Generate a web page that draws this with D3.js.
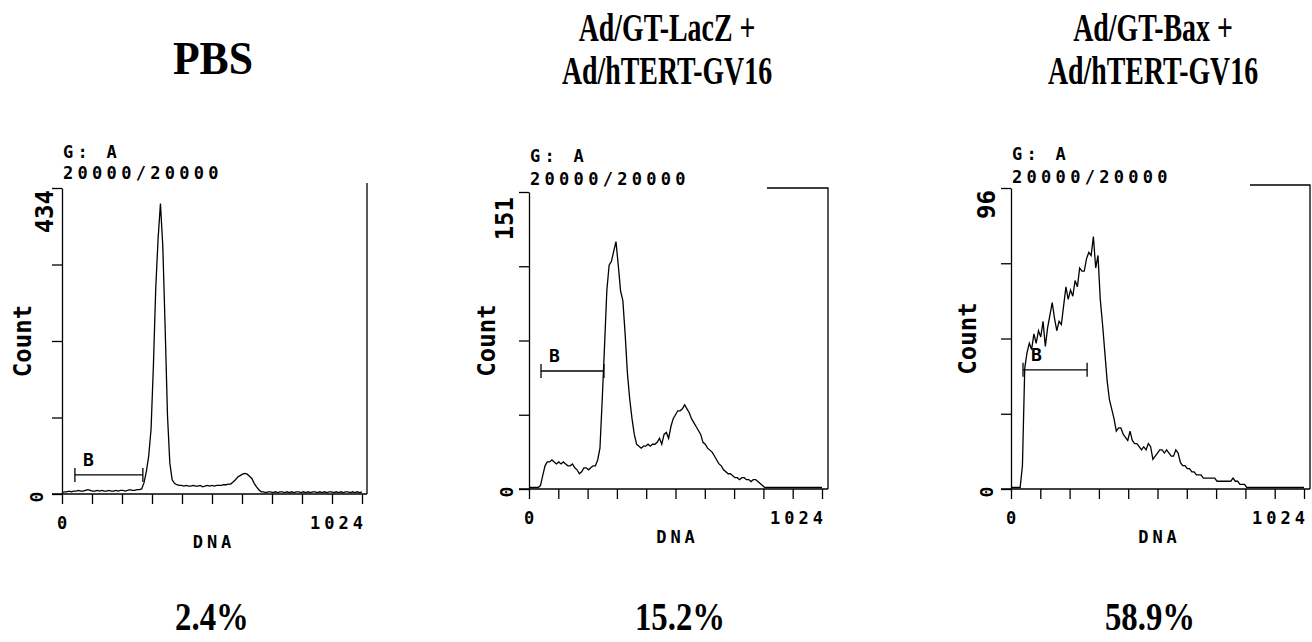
<!DOCTYPE html>
<html><head><meta charset="utf-8">
<script src="https://cdn.jsdelivr.net/npm/d3@7"></script>
<style>body{margin:0;background:#fff} svg{display:block}</style>
</head><body><svg id="c" width="1312" height="642"></svg>
<script>
// ---------- DATA ----------
const channels = d3.range(0, 1025, 8); // DNA channel of each histogram bin (0..1024)

const pbsCounts = [
 0,1,1,2,1,2,2,3,2,2, 3,4,3,2,2,3,2,3,2,2, 3,2,2,3,2,3,3,2,3,4, 3,3,4,4,
 5,14,30,52,90,180,290,360,410,350,235,110,42,18,13,11,
 10,10,9,10,9,9,10,9,9,10, 8,9,10,9,10,9,10,10,10,11, 11,12,
 12,15,18,22,24,26,27,26,23,20,13,8,4,1,
 1,0,1,1,0,1,0,1,1,0, 1,0,1,0,1,1,0,1,0,1, 0,1,1,0,1,0,1,0,1,1, 0,1,0,1,0,1,1,0,1,0, 1,0,1
];

const lacZCounts = [
 0,0,0,0,0,1,6,11,13,13, 14,13,12,13,12,13,12,11,11,12, 10,9,7,8,10,10,9,10,11,11,
 14,20,45,72,100,113,115,120,125,113, 100,95,78,58,45,35,27,22,21,20,
 21,21,22,21,22,22,23,25,22,27, 28,25,31,35,37,39,39,40,42,40,
 38,35,33,31,29,27,23,22,20,19, 18,16,14,12,11,9,8,7,7,6,
 5,5,4,5,5,4,4,3,4,4, 3,2,1,0,0,0,0,0,0,0,
 0,0,0,0,0,0,0,0,0,0, 0,0,0,0,0,0,0,0,0
];

const baxCounts = [
 0,0,0,0,0,7,38,43,46,44, 49,46,50,48,53,45,51,55,59,54,
 50,53,52,58,64,60,63,61,66,64, 70,69,69,73,75,74,80,70,74,60,
 52,43,34,28,25,22,18,19,19,17, 16,15,18,15,14,14,13,12,13,12,
 14,13,9,10,11,12,12,11,12,11, 10,10,12,11,8,7,7,6,6,5,
 5,4,4,4,3,3,3,3,3,3, 2,2,2,2,2,2,2,3,2,2,
 1,1,1,0,0,0,0,0,0,0, 0,0,0,0,0,0,0,0,0,0, 0,0,0,0,0,0,0,0,0
];

const panelTitles = [["PBS"], ["Ad/GT-LacZ +", "Ad/hTERT-GV16"], ["Ad/GT-Bax +", "Ad/hTERT-GV16"]];
const yMaxLabels = [434, 151, 96];
const percentLabels = ["2.4%", "15.2%", "58.9%"];
const gateRanges = [[44, 276], [42, 262], [42, 266]];
const gateCounts = [27, 60, 38];
const xTickValues = d3.range(0, 11).map(i => i * 102.4);
const headerLines = ["G: A", "20000/20000"];
const xAxisLabels = ["0", "1024", "DNA"];
const yAxisTitle = "Count";
const gateName = "B";

const series = [pbsCounts, lacZCounts, baxCounts];

// ---------- LAYOUT ----------
const layout = [
 {x0:62,  x1:362,  yTop:188, yBot:494, frameR:367,  frameT:183, topLineX:null, cntX:31,  maxX:53,  maxEnd:190, zeroX:43,  gaY:158, evY:179, titleX:213, pctX:212},
 {x0:529, x1:822,  yTop:192, yBot:489, frameR:828,  frameT:188, topLineX:767,  cntX:495, maxX:513, maxEnd:197, zeroX:513, gaY:162, evY:185, titleX:667, pctX:680},
 {x0:1011,x1:1304, yTop:188, yBot:489, frameR:1310, frameT:185, topLineX:1250, cntX:976, maxX:995, maxEnd:190, zeroX:993, gaY:160, evY:183, titleX:1153, pctX:1150}
];

const svg = d3.select("#c");
const mono = "'DejaVu Sans Mono', monospace";
const serif = "'Liberation Serif', 'Times New Roman', serif";
const SW = 1.3;

layout.forEach((L, p) => {
  const g = svg.append("g");
  const x = d3.scaleLinear().domain([0, 1024]).range([L.x0, L.x1]);
  const y = d3.scaleLinear().domain([0, yMaxLabels[p]]).range([L.yBot, L.yTop]);

  // y axis
  const yAxis = d3.axisLeft(y).tickValues(d3.range(0, 5).map(i => i * yMaxLabels[p] / 4))
    .tickSize(10).tickSizeOuter(0).tickFormat("");
  const ya = g.append("g").attr("transform", `translate(${L.x0},0)`).call(yAxis);
  ya.selectAll("path,line").attr("stroke", "#000").attr("stroke-width", SW);

  // x axis
  const xAxis = d3.axisBottom(x).tickValues(xTickValues).tickSize(10).tickSizeOuter(0).tickFormat("");
  const xa = g.append("g").attr("transform", `translate(0,${L.yBot})`).call(xAxis);
  xa.select(".domain").remove();
  xa.selectAll("line").attr("stroke", "#000").attr("stroke-width", SW);
  g.append("line").attr("x1", L.x0 - 10).attr("x2", L.frameR).attr("y1", L.yBot).attr("y2", L.yBot)
    .attr("stroke", "#000").attr("stroke-width", SW * 1.2);

  // frame (right side + partial top)
  const fr = [[L.frameR, L.yBot], [L.frameR, L.frameT]];
  if (L.topLineX !== null) fr.push([L.topLineX, L.frameT]);
  g.append("path").attr("d", d3.line()(fr)).attr("fill", "none").attr("stroke", "#000").attr("stroke-width", SW);

  // histogram
  const line = d3.line().x((d, i) => x(channels[i])).y(d => y(d) - 1.5);
  g.append("path").datum(series[p]).attr("d", line).attr("fill", "none")
    .attr("stroke", "#000").attr("stroke-width", 1.3).attr("stroke-linejoin", "miter");

  // gate bracket
  const gy = y(gateCounts[p]);
  const gx0 = x(gateRanges[p][0]), gx1 = x(gateRanges[p][1]);
  g.append("line").attr("x1", gx0).attr("x2", gx1).attr("y1", gy).attr("y2", gy).attr("stroke", "#000").attr("stroke-width", SW);
  [gx0, gx1].forEach(v => g.append("line").attr("x1", v).attr("x2", v).attr("y1", gy - 7).attr("y2", gy + 7)
    .attr("stroke", "#000").attr("stroke-width", SW));
  g.append("text").attr("x", gx0 + 8).attr("y", gy - 9).text(gateName)
    .attr("font-family", mono).attr("font-weight", "bold").attr("font-size", 18);

  // header text
  const hdr = (t, yy) => g.append("text").attr("x", L.x0 + 1).attr("y", yy).text(t)
    .attr("font-family", mono).attr("font-weight", "bold").attr("font-size", 17).attr("letter-spacing", 4.3);
  hdr(headerLines[0], L.gaY);
  hdr(headerLines[1], L.evY);

  // y labels (rotated)
  g.append("text").attr("transform", `translate(${L.maxX},${L.maxEnd}) rotate(-90)`).attr("text-anchor", "end")
    .text(yMaxLabels[p]).attr("font-family", mono).attr("font-weight", "bold").attr("font-size", 24);
  g.append("text").attr("transform", `translate(${L.zeroX},${L.yBot + 3}) rotate(-90)`).attr("text-anchor", "middle")
    .text("0").attr("font-family", mono).attr("font-weight", "bold").attr("font-size", 18);
  g.append("text").attr("transform", `translate(${L.cntX},${(L.yTop + L.yBot) / 2}) rotate(-90)`).attr("text-anchor", "middle")
    .text(yAxisTitle).attr("font-family", mono).attr("font-weight", "bold").attr("font-size", 24);

  // x labels
  const xl = (t, xx, anchor, yy) => g.append("text").attr("x", xx).attr("y", yy).attr("text-anchor", anchor).text(t)
    .attr("font-family", mono).attr("font-weight", "bold").attr("font-size", 17).attr("letter-spacing", 4);
  xl(xAxisLabels[0], L.x0 + 2, "middle", L.yBot + 35);
  xl(xAxisLabels[1], L.x1 + 5, "end", L.yBot + 35);
  xl(xAxisLabels[2], (L.x0 + L.x1) / 2 + 2, "middle", L.yBot + 54);

  // titles
  const lines = panelTitles[p];
  const ys = lines.length === 1 ? [74] : [41, 84];
  const sx = lines.length === 1 ? 0.95 : 0.68;
  const fs = lines.length === 1 ? 46 : 41;
  lines.forEach((t, k) => {
    g.append("text").attr("transform", `translate(${L.titleX},${ys[k]}) scale(${sx},1)`).attr("text-anchor", "middle")
      .text(t).attr("font-family", serif).attr("font-weight", "bold").attr("font-size", fs);
  });

  // percentages
  g.append("text").attr("transform", `translate(${L.pctX},630) scale(0.82,1)`).attr("text-anchor", "middle")
    .text(percentLabels[p]).attr("font-family", serif).attr("font-weight", "bold").attr("font-size", 40);
});
</script></body></html>
